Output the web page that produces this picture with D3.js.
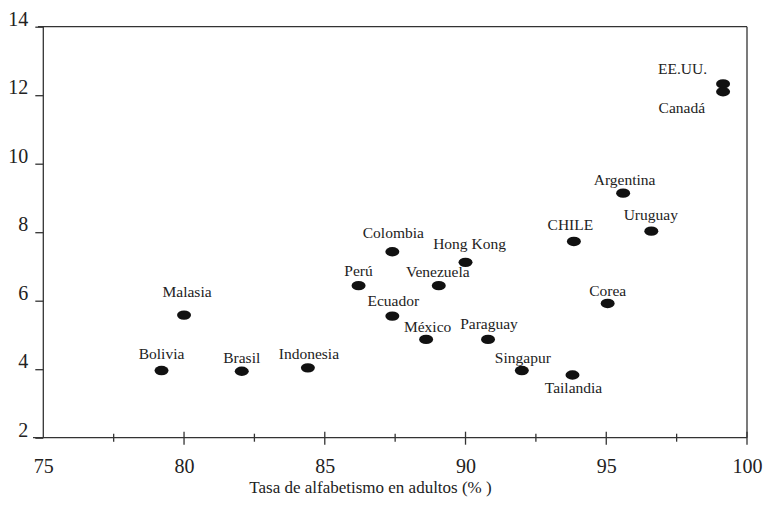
<!DOCTYPE html>
<html>
<head>
<meta charset="utf-8">
<script src="https://cdn.jsdelivr.net/npm/d3@7"></script>
<style>
  body { margin: 0; background: #fff; }
  svg text { font-family: "Liberation Serif", "Times New Roman", serif; fill: #222; }
</style>
</head>
<body>
<div id="chart"></div>
<script>
// Data
var countries = ["Bolivia", "Brasil", "Indonesia", "Malasia", "Perú", "Colombia", "Ecuador",
                 "México", "Venezuela", "Hong Kong", "Paraguay", "Singapur", "Tailandia",
                 "CHILE", "Corea", "Argentina", "Uruguay", "EE.UU.", "Canadá"];
var literacy  = [79.2, 82.05, 84.4, 80.0, 86.2, 87.4, 87.4,
                 88.6, 89.05, 90.0, 90.8, 92.0, 93.8,
                 93.85, 95.05, 95.6, 96.6, 99.15, 99.15];
var yValues   = [3.96, 3.94, 4.04, 5.58, 6.44, 7.43, 5.55,
                 4.87, 6.44, 7.12, 4.87, 3.96, 3.83,
                 7.73, 5.92, 9.14, 8.03, 12.33, 12.1];
var xTicks = [75, 80, 85, 90, 95, 100];
var xMinorTicks = [77.5, 82.5, 87.5, 92.5, 97.5];
var yTicks = [2, 4, 6, 8, 10, 12, 14];
var xTitle = "Tasa de alfabetismo en adultos (% )";

// label placement (dx, dy from the dot, text anchor)
var labelPos = {
  "Bolivia":   [0, -12, "middle"],
  "Brasil":    [0, -8, "middle"],
  "Indonesia": [1, -8.5, "middle"],
  "Malasia":   [3, -18, "middle"],
  "Perú":      [0, -10, "middle"],
  "Colombia":  [1, -14, "middle"],
  "Ecuador":   [1, -10, "middle"],
  "México":    [1.5, -7.5, "middle"],
  "Venezuela": [-1, -8.5, "middle"],
  "Hong Kong": [4, -13, "middle"],
  "Paraguay":  [1, -10, "middle"],
  "Singapur":  [1, -7.5, "middle"],
  "Tailandia": [1, 17.5, "middle"],
  "CHILE":     [-3.5, -11, "middle"],
  "Corea":     [0, -7.5, "middle"],
  "Argentina": [1.5, -8, "middle"],
  "Uruguay":   [-0.5, -11, "middle"],
  "EE.UU.":    [-16, -10, "end"],
  "Canadá":    [-18, 21.5, "end"]
};

var svgWidth = 764, svgHeight = 507;
var plot = { left: 43.3, right: 747, top: 26.7, bottom: 437.7 };

var svg = d3.select("#chart").append("svg")
    .attr("width", svgWidth)
    .attr("height", svgHeight);

var x = d3.scaleLinear().domain([75, 100]).range([plot.left, plot.right]);
var y = d3.scaleLinear().domain([2, 14]).range([plot.bottom, plot.top]);

var lineColor = "#333";

// frame
svg.append("line").attr("x1", 38).attr("x2", plot.right).attr("y1", plot.top).attr("y2", plot.top)
    .attr("stroke", lineColor).attr("stroke-width", 1.3);
svg.append("line").attr("x1", plot.right).attr("x2", plot.right).attr("y1", plot.top).attr("y2", plot.bottom)
    .attr("stroke", lineColor).attr("stroke-width", 1.3);
svg.append("line").attr("x1", plot.left).attr("x2", plot.left).attr("y1", plot.top).attr("y2", plot.bottom)
    .attr("stroke", lineColor).attr("stroke-width", 1.3);
svg.append("line").attr("x1", 33).attr("x2", plot.right).attr("y1", plot.bottom).attr("y2", plot.bottom)
    .attr("stroke", lineColor).attr("stroke-width", 1.3);

// Y axis
var yAxis = svg.append("g")
    .attr("transform", "translate(" + plot.left + ",0)")
    .call(d3.axisLeft(y).tickValues(yTicks).tickSize(8).tickPadding(7).tickSizeOuter(0));
yAxis.select(".domain").remove();
yAxis.selectAll(".tick line").attr("stroke", lineColor).attr("stroke-width", 1.3);
yAxis.selectAll(".tick text")
    .attr("dy", "-0.08em")
    .style("font-size", "20px");

// X axis labels
var xAxis = svg.append("g")
    .attr("transform", "translate(0," + plot.bottom + ")")
    .call(d3.axisBottom(x).tickValues(xTicks).tickSize(0).tickSizeOuter(0));
xAxis.select(".domain").remove();
xAxis.selectAll(".tick text")
    .attr("y", 35.5).attr("dy", 0)
    .style("font-size", "20px");

// crossing ticks
svg.append("g").selectAll("line")
    .data(xTicks.filter(function(d) { return d > 75; }))
    .enter().append("line")
    .attr("x1", function(d) { return x(d); })
    .attr("x2", function(d) { return x(d); })
    .attr("y1", plot.bottom - 6)
    .attr("y2", plot.bottom + 7)
    .attr("stroke", lineColor).attr("stroke-width", 1.3);
svg.append("g").selectAll("line")
    .data(xMinorTicks)
    .enter().append("line")
    .attr("x1", function(d) { return x(d); })
    .attr("x2", function(d) { return x(d); })
    .attr("y1", plot.bottom - 4)
    .attr("y2", plot.bottom + 4)
    .attr("stroke", lineColor).attr("stroke-width", 1.3);

// X title
svg.append("text")
    .attr("x", 370.5).attr("y", 492.5)
    .attr("text-anchor", "middle")
    .style("font-size", "17px")
    .text(xTitle);

// points
var points = countries.map(function(c, i) {
  return { name: c, lit: literacy[i], val: yValues[i] };
});

svg.append("g").selectAll("ellipse")
    .data(points)
    .enter().append("ellipse")
    .attr("cx", function(d) { return x(d.lit); })
    .attr("cy", function(d) { return y(d.val); })
    .attr("rx", 7)
    .attr("ry", 4.7)
    .attr("fill", "#111");

svg.append("g").selectAll("text")
    .data(points)
    .enter().append("text")
    .attr("x", function(d) { return x(d.lit) + labelPos[d.name][0]; })
    .attr("y", function(d) { return y(d.val) + labelPos[d.name][1]; })
    .attr("text-anchor", function(d) { return labelPos[d.name][2]; })
    .style("font-size", "15.5px")
    .text(function(d) { return d.name; });
</script>
</body>
</html>
